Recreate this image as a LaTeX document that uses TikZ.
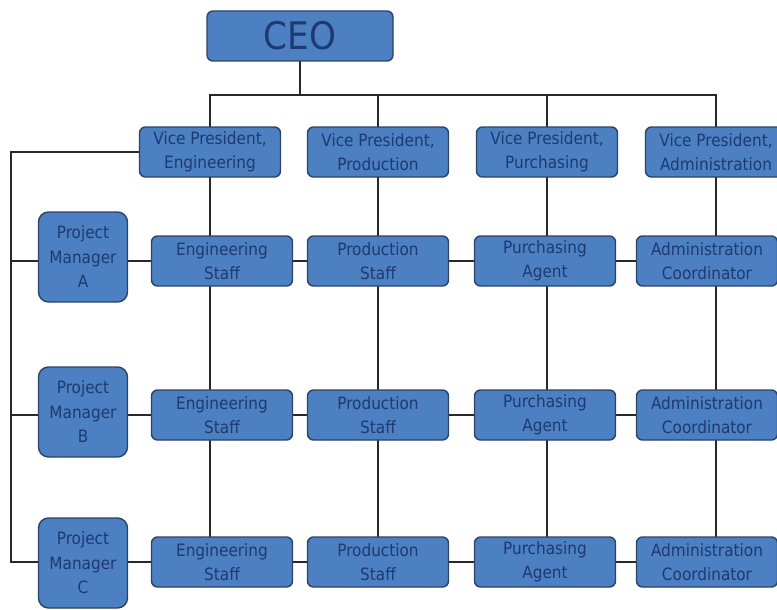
\documentclass[tikz,border=0pt]{standalone}
\usepackage{fontspec}
\setmainfont{DejaVu Sans Condensed}
\usetikzlibrary{backgrounds}
\begin{document}
\begin{tikzpicture}[x=1pt,y=-1pt,
  every node/.style={inner sep=0pt, outer sep=0pt},
  box/.style={draw=boxline, line width=1.4pt, fill=boxfill, rounded corners=6pt,
    text=boxtext, align=center, font=\fontsize{17}{24.5}\selectfont,
    minimum width=141pt, minimum height=50pt},
  pmbox/.style={box, minimum width=89pt, minimum height=90pt, rounded corners=10pt},
  link/.style={draw=linkcol, line width=2.2pt}]
\definecolor{boxfill}{RGB}{76,128,194}
\definecolor{boxline}{RGB}{44,68,100}
\definecolor{boxtext}{RGB}{30,58,112}
\definecolor{linkcol}{RGB}{40,40,40}
\useasboundingbox (0,0) rectangle (777,610);
\clip (0,0) rectangle (777,610);

% top of the chart
\node[box, minimum width=186pt, font=\fontsize{38}{40}\selectfont] (ceo) at (300,36) {CEO};
\node[box] (vpE) at (210,152) {Vice President,\\Engineering};
\node[box] (vpP) at (378,152) {Vice President,\\Production};
\node[box] (vpU) at (547,152) {Vice President,\\Purchasing};
\node[box] (vpA) at (716,152) {Vice President,\\Administration};

% project managers
\node[pmbox] (pmA) at (83,257) {Project\\Manager\\A};
\node[pmbox] (pmB) at (83,412) {Project\\Manager\\B};
\node[pmbox] (pmC) at (83,563) {Project\\Manager\\C};

% staff rows
\foreach \r/\y in {A/261,B/415,C/562}{
  \node[box] (s\r1) at (222,\y) {Engineering\\Staff};
  \node[box] (s\r2) at (378,\y) {Production\\Staff};
  \node[box] (s\r3) at (545,\y) {Purchasing\\Agent};
  \node[box] (s\r4) at (707,\y) {Administration\\Coordinator};
}

\coordinate (bus) at (300,95);
\coordinate (lft) at (11,152);

% connectors, kept behind the boxes
\begin{scope}[on background layer]
  \draw[link] (ceo.south) -- (bus);
  \draw[link] (vpE.north) |- (bus) -| (vpA.north);
  \draw[link] (vpP.north) -- (vpP.north |- bus);
  \draw[link] (vpU.north) -- (vpU.north |- bus);
  % vertical reporting lines down each column
  \foreach \v in {vpE,vpP,vpU,vpA}
    \draw[link] (\v.south) -- (\v.south |- sC1.north);
  % project manager spine
  \draw[link] (vpE.west) -| (lft |- sC1) -- (sC1.west -| pmC.west);
  \draw[link] (lft |- sA1) -- (sA1.west -| pmA.west);
  \draw[link] (lft |- sB1) -- (sB1.west -| pmB.west);
  % rows across
  \foreach \r/\p in {A/pmA,B/pmB,C/pmC}{
    \draw[link] (s\r1.west -| \p.east) -- (s\r1.west);
    \draw[link] (s\r1.east) -- (s\r2.west);
    \draw[link] (s\r2.east) -- (s\r3.west);
    \draw[link] (s\r3.east) -- (s\r4.west);
  }
\end{scope}
\end{tikzpicture}
\end{document}
